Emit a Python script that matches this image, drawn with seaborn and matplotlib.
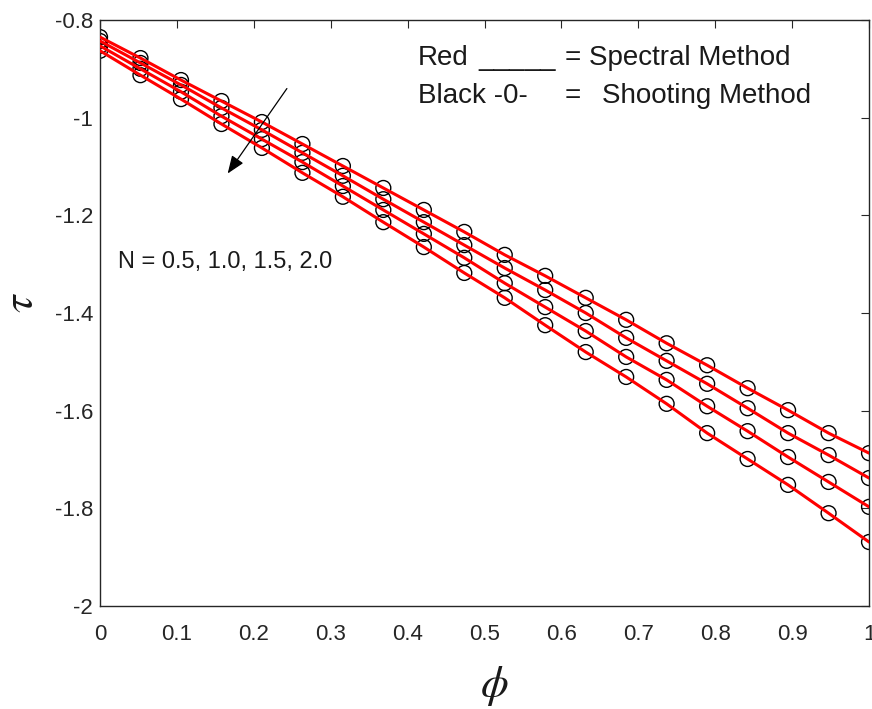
import numpy as np
import pandas as pd
import matplotlib
matplotlib.use("Agg")
import matplotlib.pyplot as plt
import seaborn as sns

phi = [0.0, 0.0526, 0.1053, 0.1579, 0.2105, 0.2632, 0.3158, 0.3684, 0.4211, 0.4737,
       0.5263, 0.5789, 0.6316, 0.6842, 0.7368, 0.7895, 0.8421, 0.8947, 0.9474, 1.0]
tau_N05 = [-0.835, -0.878, -0.923, -0.966, -1.009, -1.054, -1.099, -1.144, -1.189, -1.234,
           -1.281, -1.324, -1.369, -1.414, -1.462, -1.507, -1.554, -1.599, -1.646, -1.687]
tau_N10 = [-0.843, -0.888, -0.933, -0.980, -1.025, -1.072, -1.119, -1.167, -1.214, -1.261,
           -1.308, -1.353, -1.400, -1.451, -1.498, -1.545, -1.595, -1.646, -1.691, -1.738]
tau_N15 = [-0.853, -0.900, -0.947, -0.997, -1.044, -1.091, -1.140, -1.189, -1.238, -1.287,
           -1.339, -1.388, -1.437, -1.490, -1.537, -1.591, -1.642, -1.695, -1.746, -1.797]
tau_N20 = [-0.863, -0.913, -0.962, -1.013, -1.062, -1.113, -1.162, -1.214, -1.265, -1.318,
           -1.369, -1.425, -1.480, -1.531, -1.586, -1.646, -1.699, -1.752, -1.810, -1.869]
N_labels = ["0.5", "1.0", "1.5", "2.0"]

x_ticks = [0, 0.1, 0.2, 0.3, 0.4, 0.5, 0.6, 0.7, 0.8, 0.9, 1]
x_ticklabels = ["0", "0.1", "0.2", "0.3", "0.4", "0.5", "0.6", "0.7", "0.8", "0.9", "1"]
y_ticks = [-2, -1.8, -1.6, -1.4, -1.2, -1, -0.8]
y_ticklabels = ["-2", "-1.8", "-1.6", "-1.4", "-1.2", "-1", "-0.8"]

frames = []
for lab, vals in zip(N_labels, [tau_N05, tau_N10, tau_N15, tau_N20]):
    frames.append(pd.DataFrame({"phi": phi, "tau": vals, "N": lab}))
df = pd.concat(frames, ignore_index=True)

sns.set_theme(style="white")
plt.rcParams['font.family'] = ['Liberation Sans', 'DejaVu Sans']
plt.rcParams['mathtext.fontset'] = 'stix'

fig = plt.figure(figsize=(8.72, 7.09), dpi=100)
ax = fig.add_axes([0.1147, 0.1453, 0.8819, 0.8265])

sns.scatterplot(data=df, x="phi", y="tau", hue="N", palette=["black"] * 4,
                marker="o", s=115, legend=False, ax=ax, zorder=2)
for coll in ax.collections:
    coll.set_facecolor("none")
    coll.set_edgecolor("black")
    coll.set_linewidth(1.0)

sns.lineplot(data=df, x="phi", y="tau", hue="N", palette=["red"] * 4,
             linewidth=2.2, legend=False, ax=ax, zorder=3)

ax.set_xlim(0, 1)
ax.set_ylim(-2, -0.8)
ax.set_xticks(x_ticks)
ax.set_xticklabels(x_ticklabels)
ax.set_yticks(y_ticks)
ax.set_yticklabels(y_ticklabels)
ax.tick_params(direction="in", top=True, right=True, length=6, width=0.8,
               labelsize=16, colors="#262626")
ax.tick_params(axis="x", pad=13)
ax.tick_params(axis="y", pad=5)
for sp in ax.spines.values():
    sp.set_color("#262626")
    sp.set_linewidth(1.0)
    sp.set_visible(True)

ax.set_xlabel("")
ax.set_ylabel("")
fig.text(0.5665, 0.0324, r"$\phi$", fontsize=32, ha="center", va="center", color="#1a1a1a")
fig.text(0.0252, 0.574, r"$\tau$", fontsize=32, ha="center", va="center", rotation=90,
         color="#1a1a1a")

tc = "#1a1a1a"
fs = 20
y1, y2 = 0.935, 0.870
ax.text(0.4135, y1, "Red", transform=ax.transAxes, fontsize=fs, color=tc, va="center", ha="left")
ax.text(0.4915, y1, "_____", transform=ax.transAxes, fontsize=fs, color=tc, va="center", ha="left")
ax.text(0.6047, y1, "= Spectral Method", transform=ax.transAxes, fontsize=fs, color=tc, va="center", ha="left")
ax.text(0.4135, y2, "Black -0-", transform=ax.transAxes, fontsize=fs, color=tc, va="center", ha="left")
ax.text(0.6047, y2, "=", transform=ax.transAxes, fontsize=fs, color=tc, va="center", ha="left")
ax.text(0.6528, y2, "Shooting Method", transform=ax.transAxes, fontsize=fs, color=tc, va="center", ha="left")
ax.text(0.024, 0.587, "N = 0.5, 1.0, 1.5, 2.0", transform=ax.transAxes,
        fontsize=17, color=tc, va="center", ha="left")

ax.annotate("", xy=(0.166, 0.738), xytext=(0.243, 0.883), xycoords="axes fraction",
            arrowprops=dict(arrowstyle="-|>,head_length=0.9,head_width=0.35",
                            color="black", lw=0.9, shrinkA=0, shrinkB=0))

fig.savefig("out.png", dpi=100)
